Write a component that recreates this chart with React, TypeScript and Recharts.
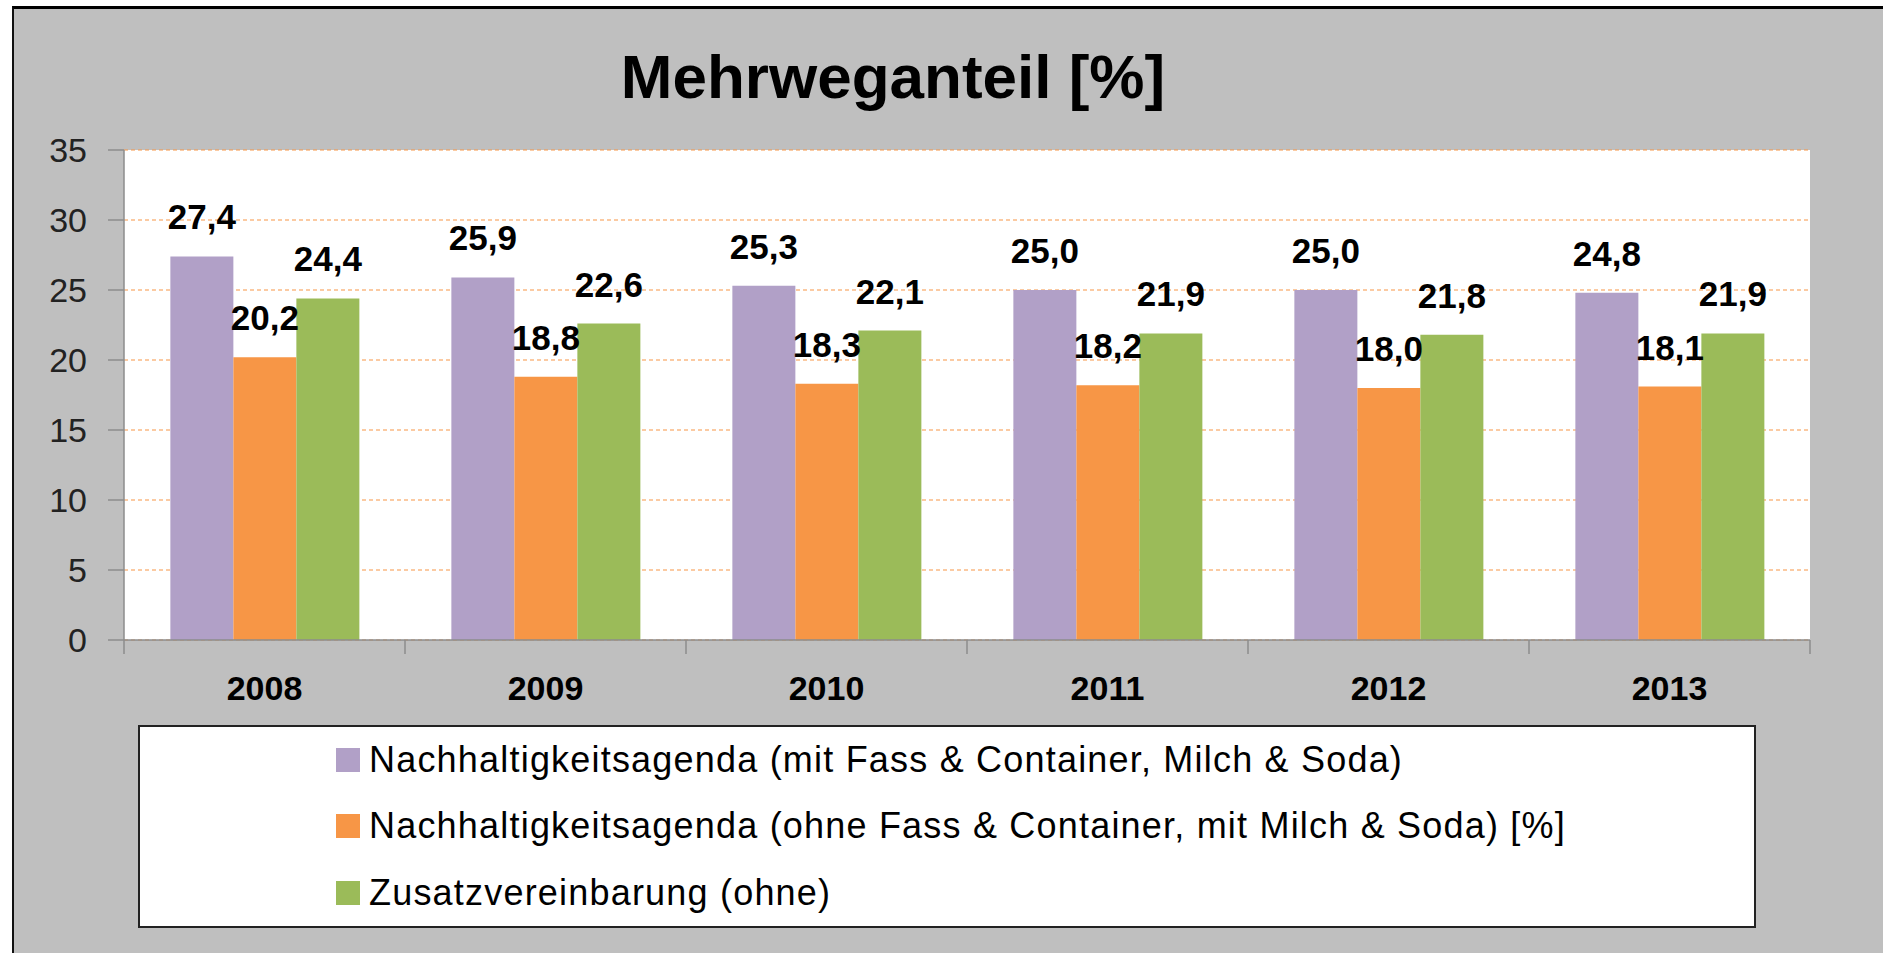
import { BarChart, Bar, XAxis, YAxis, CartesianGrid, Legend, LabelList } from 'recharts';

// Mehrweganteil in Prozent, je Jahr
const years = ['2008', '2009', '2010', '2011', '2012', '2013'];
const mitFassMilchSoda = [27.4, 25.9, 25.3, 25.0, 25.0, 24.8];
const ohneFassMitMilchSoda = [20.2, 18.8, 18.3, 18.2, 18.0, 18.1];
const zusatzvereinbarung = [24.4, 22.6, 22.1, 21.9, 21.8, 21.9];

const seriesNames = [
  'Nachhaltigkeitsagenda (mit Fass & Container, Milch & Soda)',
  'Nachhaltigkeitsagenda (ohne Fass & Container, mit Milch & Soda) [%]',
  'Zusatzvereinbarung (ohne)',
];
const yTicks = [0, 5, 10, 15, 20, 25, 30, 35];

const data = years.map((year, i) => ({
  year,
  mit: mitFassMilchSoda[i],
  ohne: ohneFassMitMilchSoda[i],
  zusatz: zusatzvereinbarung[i],
}));

const FONT = "'Liberation Sans', Arial, sans-serif";
const axisGray = '#8c8c8c';

const fmt = (v: any) => Number(v).toFixed(1).replace('.', ',');

// year label plus tick marks on the category boundaries (like Excel)
const YearTick = (props: any) => {
  const { x, y, payload, index, width, visibleTicksCount } = props;
  const band = width / visibleTicksCount;
  return (
    <g>
      <line x1={x - band / 2} x2={x - band / 2} y1={y} y2={y + 14} stroke={axisGray} strokeWidth={1.5} />
      {index === visibleTicksCount - 1 && (
        <line x1={x + band / 2} x2={x + band / 2} y1={y} y2={y + 14} stroke={axisGray} strokeWidth={1.5} />
      )}
      <text x={x} y={y + 36} dy="0.71em" textAnchor="middle" fontSize={34} fontWeight="bold" fill="#000">
        {payload.value}
      </text>
    </g>
  );
};

const renderLegend = (props: any) => {
  const { payload } = props;
  return (
    <div
      style={{
        boxSizing: 'border-box',
        width: '100%',
        height: '100%',
        background: '#fff',
        border: '2px solid #222',
        paddingLeft: 196,
        display: 'flex',
        flexDirection: 'column',
        justifyContent: 'center',
      }}
    >
      {(payload || []).map((entry: any) => (
        <div
          key={entry.value}
          style={{ display: 'flex', alignItems: 'center', height: 68, fontSize: 36, letterSpacing: 1.2, color: '#000', whiteSpace: 'nowrap' }}
        >
          <span style={{ width: 24, height: 24, background: entry.color, marginRight: 9, display: 'inline-block', flex: 'none' }} />
          <span>{entry.value}</span>
        </div>
      ))}
    </div>
  );
};

export default function App() {
  return (
    <div style={{ position: 'absolute', left: 0, top: 0, width: 1883, height: 953, background: '#fff', fontFamily: FONT, overflow: 'hidden' }}>
      <div
        style={{
          position: 'absolute',
          left: 12,
          top: 6,
          width: 1871,
          height: 947,
          boxSizing: 'border-box',
          background: '#bfbfbf',
          borderTop: '3px solid #000',
          borderLeft: '2px solid #111',
        }}
      />
      <div
        style={{
          position: 'absolute',
          left: 0,
          top: 46,
          width: 1786,
          textAlign: 'center',
          fontSize: 62,
          lineHeight: '62px',
          fontWeight: 'bold',
          color: '#000',
        }}
      >
        Mehrweganteil [%]
      </div>
      <div style={{ position: 'absolute', left: 0, top: 0 }}>
        <BarChart
          width={1883}
          height={953}
          data={data}
          margin={{ top: 150, right: 73, left: 0, bottom: 253 }}
          barCategoryGap="16.5%"
          barGap={0}
        >
          <CartesianGrid
            vertical={false}
            fill="#fff"
            stroke="#f79646"
            strokeDasharray="4 3"
            strokeWidth={1.2}
          />
          <XAxis
            dataKey="year"
            height={60}
            axisLine={{ stroke: axisGray, strokeWidth: 1.5 }}
            tickLine={false}
            tickSize={0}
            tickMargin={0}
            interval={0}
            tick={<YearTick />}
          />
          <YAxis
            width={124}
            domain={[0, 35]}
            ticks={yTicks}
            interval={0}
            axisLine={{ stroke: axisGray, strokeWidth: 1.5 }}
            tickLine={{ stroke: axisGray, strokeWidth: 1.5 }}
            tickSize={16}
            tickMargin={21}
            tick={{ fontSize: 34, fill: '#222' }}
          />
          <Legend
            layout="horizontal"
            verticalAlign="middle"
            align="center"
            content={renderLegend}
            wrapperStyle={{ left: 138, top: 725, width: 1618, height: 203 }}
          />
          <Bar dataKey="mit" name={seriesNames[0]} fill="#b1a0c7" isAnimationActive={false}>
            <LabelList dataKey="mit" position="top" offset={27} formatter={fmt} style={{ fontSize: 35, fontWeight: 'bold', fill: '#000' }} />
          </Bar>
          <Bar dataKey="ohne" name={seriesNames[1]} fill="#f79646" isAnimationActive={false}>
            <LabelList dataKey="ohne" position="top" offset={27} formatter={fmt} style={{ fontSize: 35, fontWeight: 'bold', fill: '#000' }} />
          </Bar>
          <Bar dataKey="zusatz" name={seriesNames[2]} fill="#9bbb59" isAnimationActive={false}>
            <LabelList dataKey="zusatz" position="top" offset={27} formatter={fmt} style={{ fontSize: 35, fontWeight: 'bold', fill: '#000' }} />
          </Bar>
        </BarChart>
      </div>
    </div>
  );
}
